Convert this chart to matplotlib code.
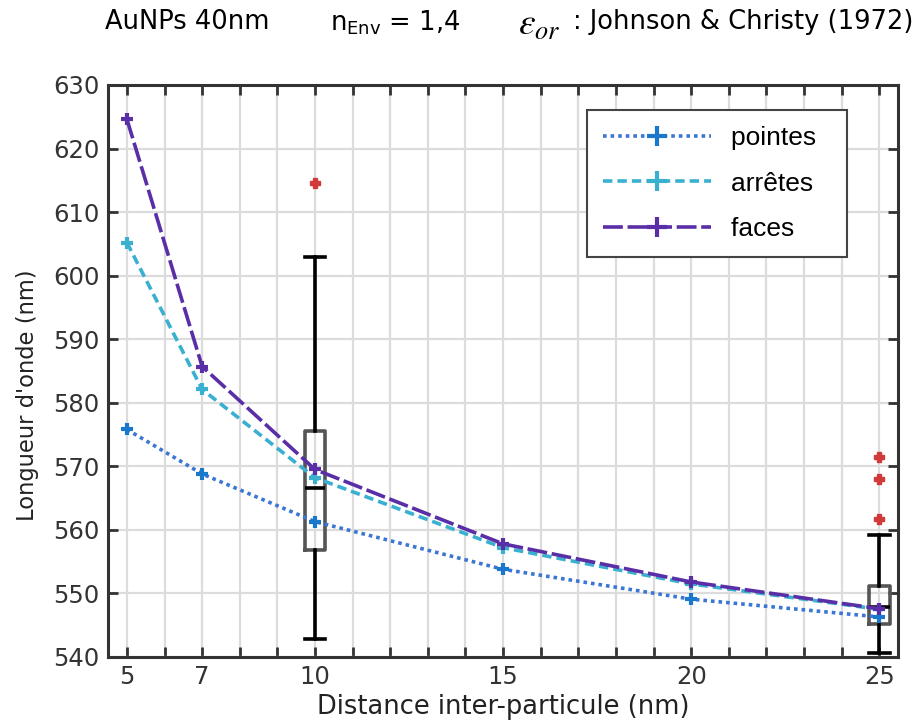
import numpy as np
import matplotlib.pyplot as plt

# données
distances = [5, 7, 10, 15, 20, 25]
pointes = [575.8, 568.8, 561.3, 553.8, 549.1, 546.3]
arretes = [605.2, 582.1, 568.2, 557.2, 551.5, 547.5]
faces = [624.6, 585.7, 569.5, 557.8, 551.8, 547.6]

# statistiques des boîtes (mesures expérimentales)
box_pos = [10, 25]
box_med = [566.6, 547.9]
box_q1 = [556.8, 545.2]
box_q3 = [575.5, 551.2]
box_lo = [542.8, 540.6]
box_hi = [602.9, 559.2]
box_fliers = [[614.6], [561.7, 568.0, 571.4]]

xtick_labels = [5, 7, 10, 15, 20, 25]

fig = plt.figure(figsize=(9.24, 7.2), dpi=100)
ax = fig.add_axes([0.117, 0.0875, 0.855, 0.7945])

# boîtes à moustaches
stats = []
for i in range(len(box_pos)):
    stats.append(dict(med=box_med[i], q1=box_q1[i], q3=box_q3[i],
                      whislo=box_lo[i], whishi=box_hi[i], fliers=box_fliers[i]))
ax.bxp(stats, positions=box_pos, widths=0.55, manage_ticks=False,
       boxprops=dict(color='#555555', linewidth=2.6),
       whiskerprops=dict(color='black', linewidth=2.6),
       capprops=dict(color='black', linewidth=2.6),
       medianprops=dict(color='black', linewidth=2.6),
       flierprops=dict(marker='P', markersize=7, markerfacecolor='#d03a3a',
                       markeredgecolor='#d03a3a', linestyle='none'),
       capwidths=0.55, zorder=3)

# courbes
ax.plot(distances, pointes, color='#3b76d4', linestyle=(0, (1, 1.1)), linewidth=2.6,
        marker='+', markersize=8, markeredgewidth=3, markeredgecolor='#1a78cc',
        label='pointes', zorder=4)
ax.plot(distances, arretes, color='#3ab0d0', linestyle=(0, (2.6, 1.4)), linewidth=2.6,
        marker='+', markersize=8, markeredgewidth=3,
        label='arrêtes', zorder=4)
ax.plot(distances, faces, color='#5a2ea6', linestyle=(0, (5.5, 1.3)), linewidth=2.6,
        marker='+', markersize=8, markeredgewidth=3,
        label='faces', zorder=4)

ax.set_xlim(4.5, 25.5)
ax.set_ylim(540, 630)
ax.set_xticks(np.arange(5, 26, 1))
ax.set_xticklabels([str(v) if v in xtick_labels else '' for v in range(5, 26)])
ax.set_yticks(np.arange(540, 631, 10))
ax.grid(True, color='#dcdcdc', linewidth=1.6, zorder=0)
ax.set_axisbelow(True)
ax.tick_params(direction='in', length=7, width=2, color='#333333',
               top=True, right=True, labelsize=17.5, labelcolor='#333333', pad=6)
for s in ax.spines.values():
    s.set_color('#333333')
    s.set_linewidth(2.2)

ax.set_xlabel('Distance inter-particule (nm)', fontsize=18.5, labelpad=3,
              color='#222222')
ax.set_ylabel("Longueur d'onde (nm)", fontsize=16.3, color='#222222')
ax.yaxis.set_label_coords(-0.088, 0.458)

leg = ax.legend(loc='upper right', bbox_to_anchor=(0.935, 0.956), borderaxespad=0,
                handlelength=4.1, handletextpad=0.75, labelspacing=0.82,
                borderpad=0.6, fancybox=False, framealpha=1, markerscale=1.8,
                prop={'family': 'Liberation Sans', 'size': 19})
leg.get_frame().set_edgecolor('#444444')
leg.get_frame().set_linewidth(1.5)
# marge à droite des étiquettes
for t in leg.get_texts():
    t.set_text(t.get_text() + '  ')

# titre
fig.text(0.114, 0.969, 'AuNPs 40nm', fontsize=18.5, va='center')
fig.text(0.357, 0.969, r'n$_{\mathrm{Env}}$ = 1,4', fontsize=18.5, va='center')
fig.text(0.561, 0.965, r'$\varepsilon_{or}$', fontsize=27, va='center',
         math_fontfamily='stix')
fig.text(0.620, 0.969, ': Johnson & Christy (1972)', fontsize=18.5, va='center')

fig.savefig('out.png', dpi=100)
